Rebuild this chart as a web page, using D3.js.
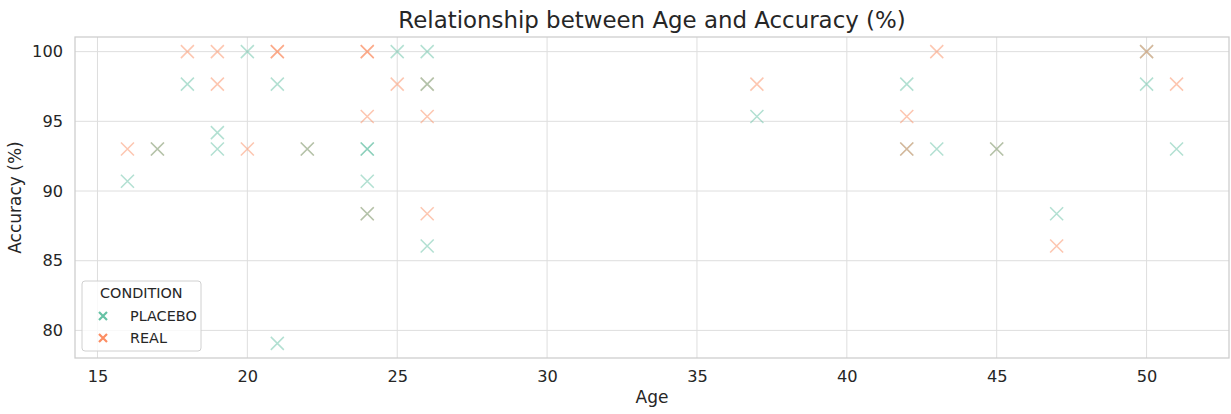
<!DOCTYPE html>
<html><head><meta charset="utf-8">
<script src="https://cdn.jsdelivr.net/npm/d3@7"></script>
<style>body{margin:0;background:#fff}svg{display:block}text{font-family:"DejaVu Sans",sans-serif;fill:#262626}</style>
</head><body><svg id="c" width="1231" height="414"></svg>
<script>
const ages =       [16,16,17,17,18,18,19,19,19,19,20,20,21,21,21,21,22,22,24,24,24,24,24,24,24,24,25,25,26,26,26,26,26,26,37,37,42,42,42,42,43,43,45,45,47,47,50,50,50,51,51];
const accuracy =   [93.02,90.70,93.02,93.02,100,97.67,100,97.67,94.19,93.02,100,93.02,100,100,97.67,79.07,93.02,93.02,100,100,95.35,93.02,93.02,90.70,88.37,88.37,100,97.67,100,97.67,97.67,95.35,88.37,86.05,97.67,95.35,97.67,95.35,93.02,93.02,100,93.02,93.02,93.02,88.37,86.05,97.67,100,100,97.67,93.02];
const conditions = ["REAL","PLACEBO","REAL","PLACEBO","REAL","PLACEBO","REAL","REAL","PLACEBO","PLACEBO","PLACEBO","REAL","REAL","REAL","PLACEBO","PLACEBO","REAL","PLACEBO","REAL","REAL","REAL","PLACEBO","PLACEBO","PLACEBO","REAL","PLACEBO","PLACEBO","REAL","PLACEBO","REAL","PLACEBO","REAL","REAL","PLACEBO","REAL","PLACEBO","PLACEBO","REAL","PLACEBO","REAL","REAL","PLACEBO","REAL","PLACEBO","PLACEBO","REAL","PLACEBO","PLACEBO","REAL","REAL","PLACEBO"];
const xTicks = [15,20,25,30,35,40,45,50];
const yTicks = [80,85,90,95,100];
const legendLabels = ["PLACEBO","REAL"];
const colors = {PLACEBO:"#66c2a5", REAL:"#fc8d62"};

const svg = d3.select("#c");
const L=75, R=1229, T=37, B=358;
const x = d3.scaleLinear().domain([14.25,52.75]).range([L,R]);
const y = d3.scaleLinear().domain([101.05,78.02]).range([T,B]);

// grid
svg.append("g").selectAll("line").data(xTicks).join("line")
  .attr("x1",d=>x(d)).attr("x2",d=>x(d)).attr("y1",T).attr("y2",B)
  .attr("stroke","#dedede").attr("stroke-width",1);
svg.append("g").selectAll("line").data(yTicks).join("line")
  .attr("y1",d=>y(d)).attr("y2",d=>y(d)).attr("x1",L).attr("x2",R)
  .attr("stroke","#dedede").attr("stroke-width",1);

// axes labels via d3 axes
const xa = svg.append("g").attr("transform",`translate(0,${B})`)
  .call(d3.axisBottom(x).tickValues(xTicks).tickSize(0).tickPadding(10).tickFormat(d3.format("d")));
const ya = svg.append("g").attr("transform",`translate(${L},0)`)
  .call(d3.axisLeft(y).tickValues(yTicks).tickSize(0).tickPadding(12).tickFormat(d3.format("d")));
[xa,ya].forEach(a=>{a.select(".domain").remove();a.selectAll("text").attr("font-size",16.2).attr("fill","#262626").style("font-family","DejaVu Sans");});
xa.selectAll("text").attr("y",24).attr("dy",0);

// frame
svg.append("rect").attr("x",L).attr("y",T).attr("width",R-L).attr("height",B-T)
  .attr("fill","none").attr("stroke","#cccccc").attr("stroke-width",1.25);

// points
const s=6.5;
const g = svg.append("g");
ages.forEach((a,i)=>{
  const cx=x(a), cy=y(accuracy[i]);
  g.append("path").attr("d",`M${cx-s},${cy-s}L${cx+s},${cy+s}M${cx-s},${cy+s}L${cx+s},${cy-s}`)
   .attr("stroke",colors[conditions[i]]).attr("stroke-width",1.5).attr("stroke-opacity",0.5).attr("fill","none");
});

// title & labels
svg.append("text").attr("x",(L+R)/2).attr("y",28).attr("text-anchor","middle").attr("font-size",22.9).text("Relationship between Age and Accuracy (%)");
svg.append("text").attr("x",(L+R)/2).attr("y",403).attr("text-anchor","middle").attr("font-size",17).text("Age");
svg.append("text").attr("transform",`translate(21,${(T+B)/2}) rotate(-90)`).attr("text-anchor","middle").attr("font-size",17).text("Accuracy (%)");

// legend
const lg = svg.append("g");
lg.append("rect").attr("x",82).attr("y",281).attr("width",119).attr("height",70).attr("rx",3)
  .attr("fill","#fff").attr("fill-opacity",0.8).attr("stroke","#d0d0d0").attr("stroke-width",1);
lg.append("text").attr("x",100).attr("y",298).attr("font-size",14.4).text("CONDITION");
legendLabels.forEach((k,i)=>{
  const cy=316+i*22, cx=103, m=4;
  lg.append("path").attr("d",`M${cx-m},${cy-m}L${cx+m},${cy+m}M${cx-m},${cy+m}L${cx+m},${cy-m}`)
    .attr("stroke",colors[k]).attr("stroke-width",2.2);
  lg.append("text").attr("x",130).attr("y",cy+4.5).attr("font-size",14.4).text(k);
});
</script></body></html>
